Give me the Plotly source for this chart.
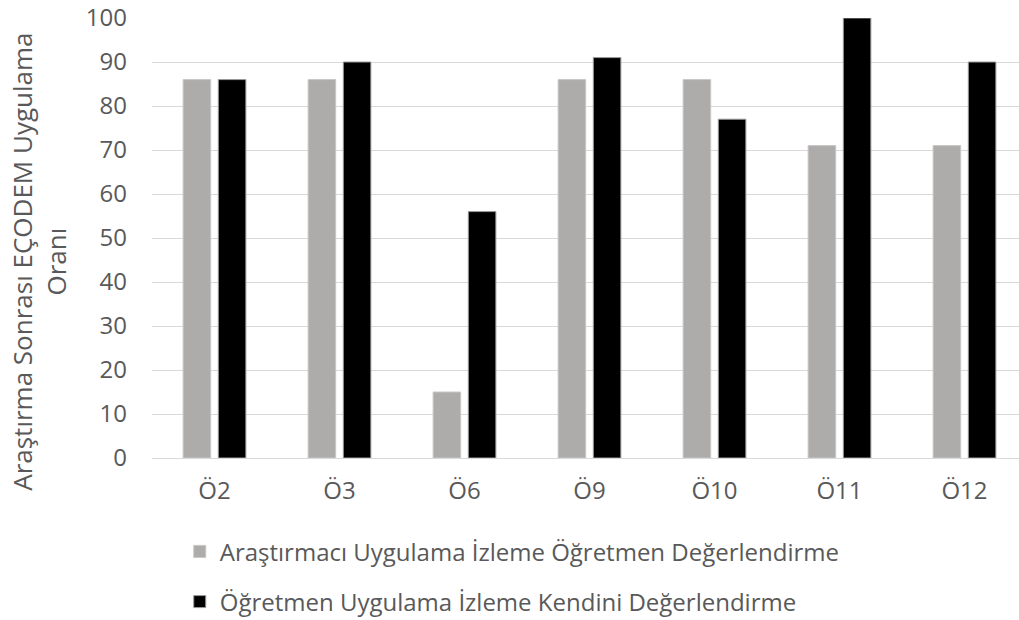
import plotly.graph_objects as go

categories = ["Ö2", "Ö3", "Ö6", "Ö9", "Ö10", "Ö11", "Ö12"]
arastirmaci = [86, 86, 15, 86, 86, 71, 71]
ogretmen = [86, 90, 56, 91, 77, 100, 90]
series_names = [
    "Araştırmacı Uygulama İzleme Öğretmen Değerlendirme",
    "Öğretmen Uygulama İzleme Kendini Değerlendirme",
]
y_ticks = [0, 10, 20, 30, 40, 50, 60, 70, 80, 90, 100]

FONT = "Open Sans"
TEXT = "#595959"

fig = go.Figure()
fig.add_trace(go.Bar(
    x=categories, y=arastirmaci, name=series_names[0],
    marker=dict(color="#AEABAB", line=dict(color="#C8C6C6", width=1)),
    legendgroup="a",
))
fig.add_trace(go.Bar(
    x=categories, y=ogretmen, name=series_names[1],
    marker=dict(color="#000000", line=dict(color="#9A9A9A", width=1)),
    legendgroup="b",
))

W, H = 1019, 620
ml, mr, mt, mb = 152, 0, 18, 162

fig.update_layout(
    width=W, height=H,
    margin=dict(l=ml, r=mr, t=mt, b=mb, autoexpand=False),
    paper_bgcolor="white", plot_bgcolor="white",
    barmode="group", bargap=0.437, bargroupgap=0.217,
    font=dict(family=FONT, color=TEXT, size=24),
    showlegend=True,
    legend=dict(
        orientation="v", x=0.032, xanchor="left", y=-0.162, yanchor="top",
        font=dict(size=24, color=TEXT), tracegroupgap=16,
        bgcolor="rgba(0,0,0,0)",
    ),
    xaxis=dict(
        range=[-0.5, 6.436], showgrid=False, showline=False, zeroline=False,
        tickfont=dict(size=24, color=TEXT), ticks="", ticklabelstandoff=16,
        fixedrange=True,
    ),
    yaxis=dict(
        range=[0, 100], tickvals=y_ticks, showgrid=True, gridcolor="#D9D9D9",
        gridwidth=1, zeroline=True, zerolinecolor="#D9D9D9", zerolinewidth=1,
        showline=False, tickfont=dict(size=24, color=TEXT), ticks="",
        ticklabelstandoff=24,
    ),
    annotations=[dict(
        text="Araştırma Sonrası EÇODEM Uygulama<br>Oranı",
        xref="paper", yref="paper", x=-0.1303, y=0.446,
        xanchor="center", yanchor="middle", textangle=-90,
        showarrow=False, font=dict(size=26, color=TEXT, family=FONT),
    )],
)

fig.write_html("out.html")
